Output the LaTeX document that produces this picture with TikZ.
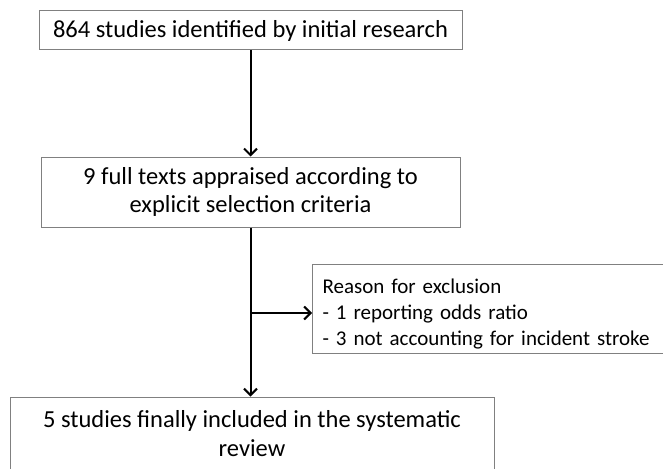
\documentclass[tikz,border=0pt]{standalone}
\usepackage{fontspec}
\setmainfont{Carlito}
\usetikzlibrary{arrows.meta}
\definecolor{boxgray}{RGB}{128,128,128}
\begin{document}
\begin{tikzpicture}[x=1pt,y=-1pt,
    stage/.style={
      draw=boxgray,
      line width=1pt,
      rectangle,
      align=center,
      inner sep=0pt,
      font=\fontsize{24.5}{28.5}\selectfont
    },
    reason/.style={
      draw=boxgray,
      line width=1pt,
      rectangle,
      align=left,
      inner xsep=10pt,
      inner ysep=0pt,
      text width=338pt,
      minimum height=89pt,
      anchor=west,
      font=\fontsize{21}{26}\selectfont
    },
    flow/.style={line width=2pt,-{Straight Barb[length=6.5pt,width=13pt,line width=2pt]}}]
    \useasboundingbox (0,0) rectangle (663,468);
    \node[stage, minimum width=423pt, minimum height=39pt] at (250.5,30.5) (found)
        {864 studies identified by initial research};
    \node[stage, minimum width=419pt, minimum height=70pt] at (250.5,192) (appraised)
        {9 full texts appraised according to\\explicit selection criteria};
    \node[stage, minimum width=484pt, minimum height=73pt] at (252,433.5) (included)
        {5 studies finally included in the systematic\\review};
    \node[reason] at (312,308.5) (excluded)
        {\rule{0pt}{25pt}Reason for exclusion\\- 1 reporting odds ratio\\- 3 not accounting for incident stroke};

    \coordinate (split) at (appraised.south |- 0,313);
    \draw[flow] (found.south) -- (appraised.north);
    \draw[flow] (appraised.south) -- (appraised.south |- included.north);
    \draw[flow] (split) -- (split -| excluded.west);
\end{tikzpicture}
\end{document}
